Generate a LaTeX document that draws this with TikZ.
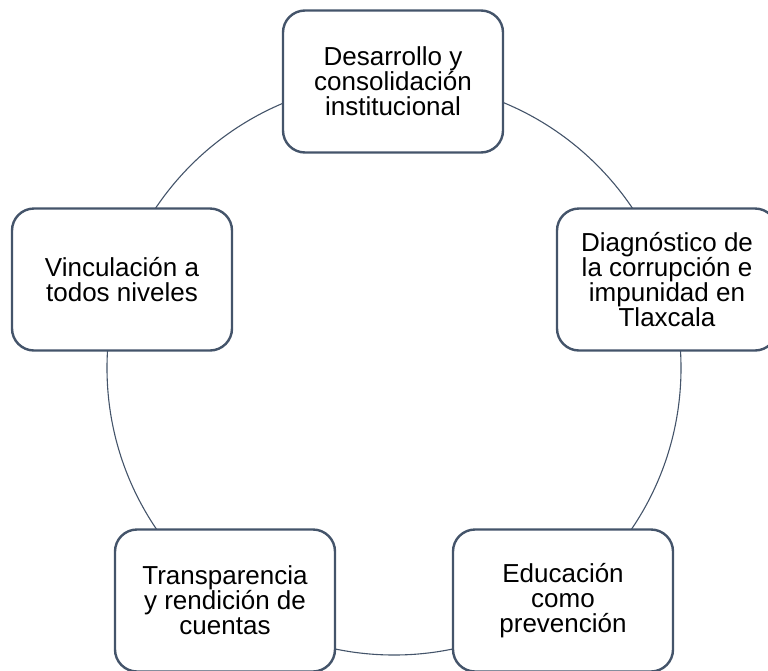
\documentclass[tikz,border=0pt]{standalone}
\usepackage{fontspec}
\setmainfont{Liberation Sans}
\definecolor{slate}{HTML}{44546A}
\begin{document}
\begin{tikzpicture}[x=1pt,y=-1pt,
  cyclebox/.style={rectangle, rounded corners=22pt, minimum width=220pt, minimum height=142pt,
    draw=slate, line width=2.4pt, fill=white, align=center, inner sep=0pt,
    font=\fontsize{26}{25}\selectfont, text=black}]
\useasboundingbox (0,0) rectangle (768,670);
\coordinate (c) at (394,368);
\draw[slate, line width=1.1pt] (c) circle[radius=287pt];
\node[cyclebox] (top) at (393,81.5) {Desarrollo y\\consolidación\\institucional};
\node[cyclebox] (right) at (667,279.5) {Diagnóstico de\\la corrupción e\\impunidad en\\Tlaxcala};
\node[cyclebox] (br) at (563,600.5) {Educación\\como\\prevención};
\node[cyclebox] (bl) at (225,600.5) {Transparencia\\y rendición de\\cuentas};
\node[cyclebox] (left) at (122,279.5) {Vinculación a\\todos niveles};
\end{tikzpicture}
\end{document}
